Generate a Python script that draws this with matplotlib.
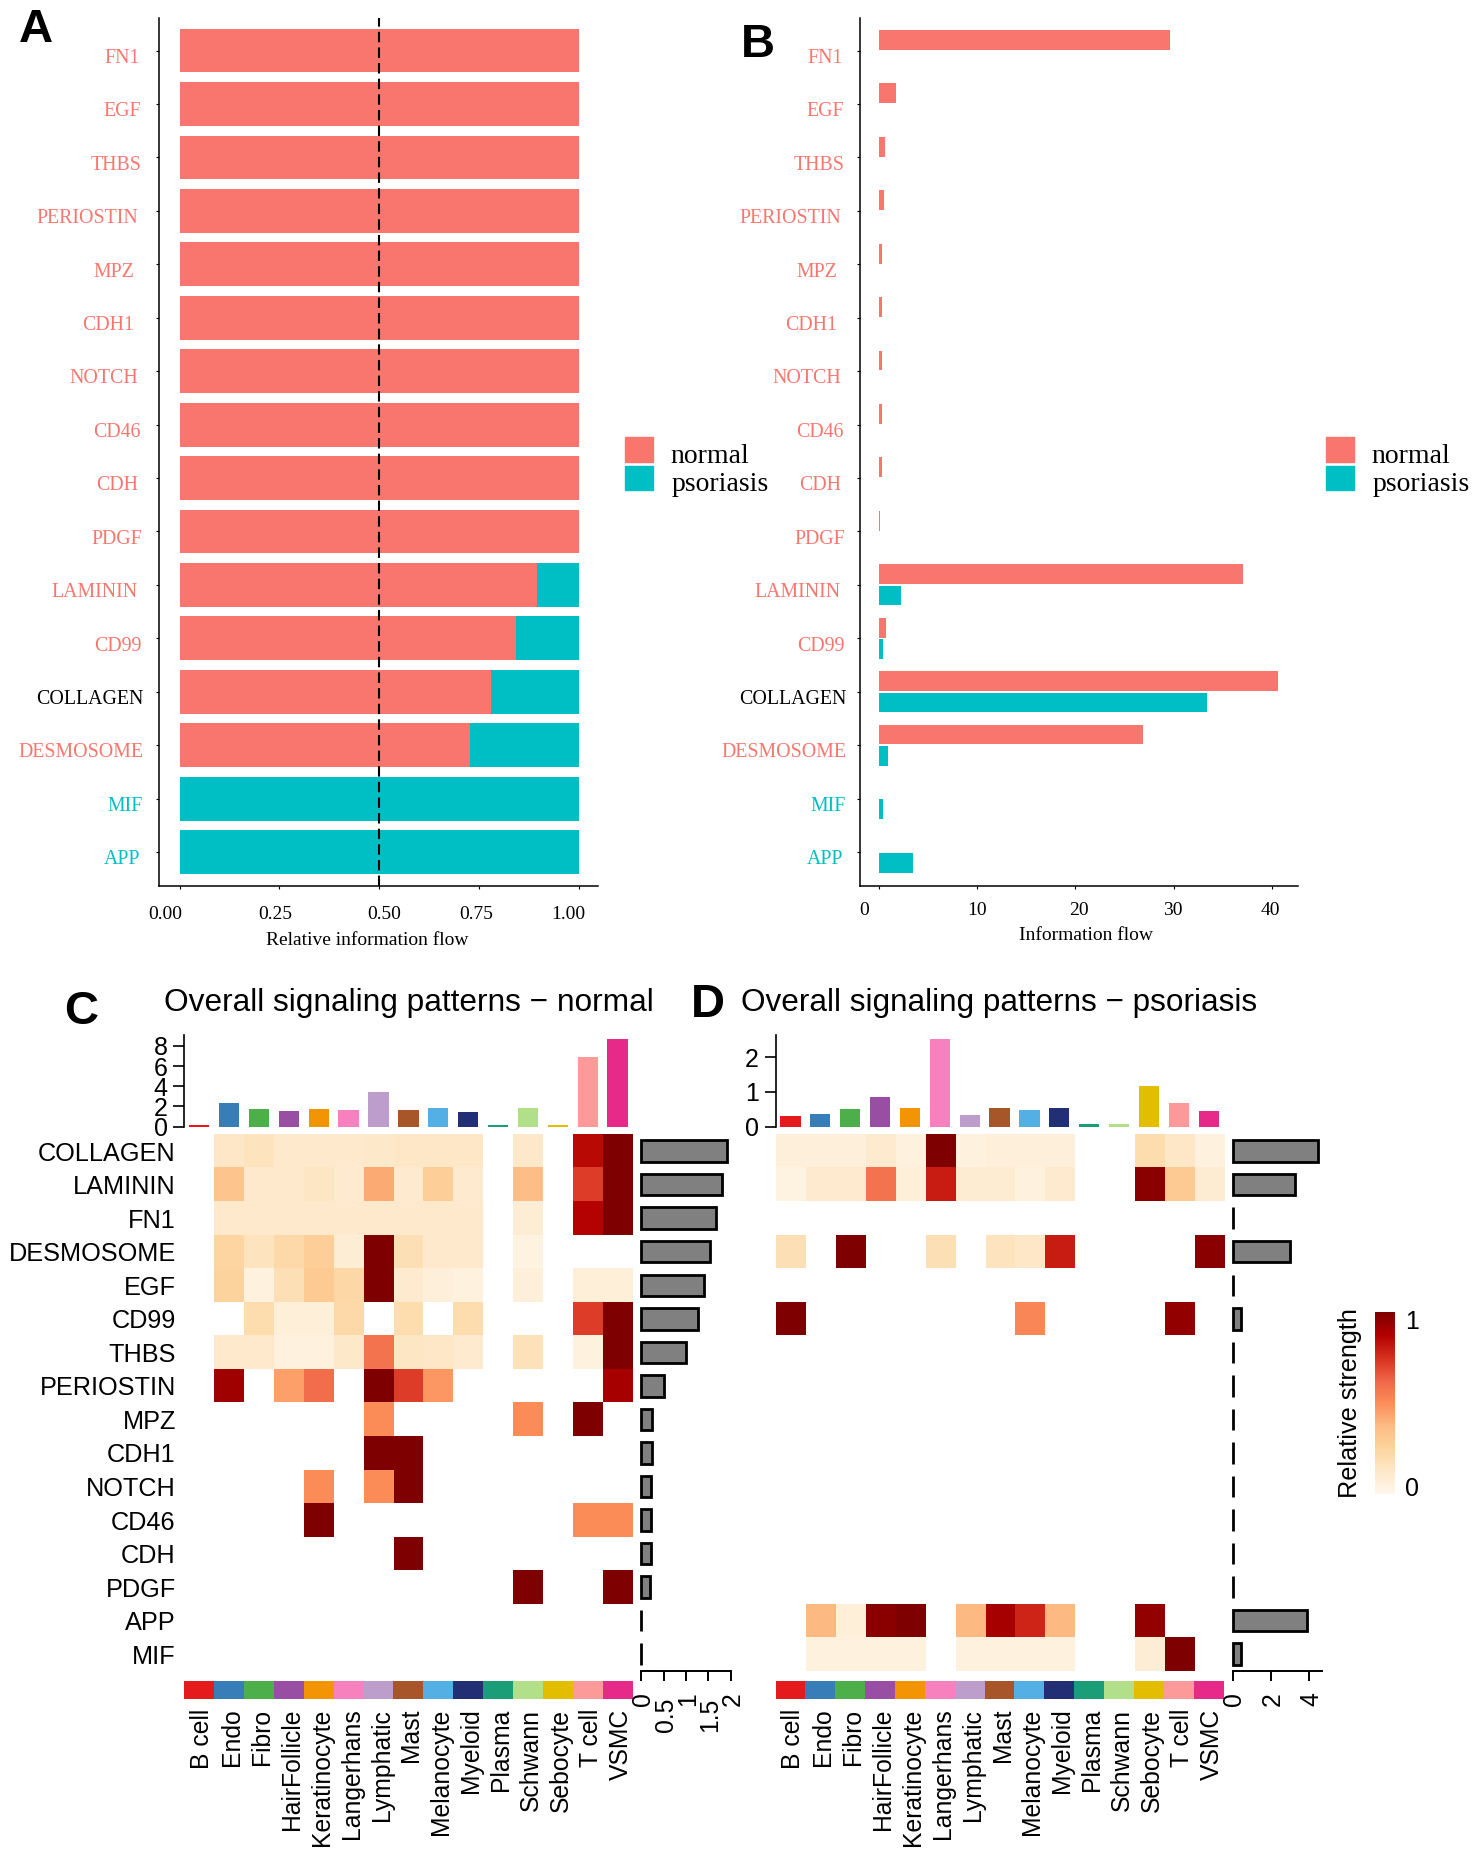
"""
Signaling comparison figure: information flow bars (A, B) and
outgoing signaling pattern heatmaps (C, D), normal vs psoriasis.
"""
import matplotlib
matplotlib.use("Agg")
import matplotlib.pyplot as plt
import numpy as np
from matplotlib.patches import Patch
from matplotlib.transforms import ScaledTranslation

n = np.nan

# panels A and B
pathways = ["FN1", "EGF", "THBS", "PERIOSTIN", "MPZ", "CDH1", "NOTCH", "CD46",
            "CDH", "PDGF", "LAMININ", "CD99", "COLLAGEN", "DESMOSOME", "MIF", "APP"]
flow_normal = [29.6, 1.8, 0.7, 0.5, 0.3, 0.3, 0.3, 0.3, 0.3, 0.15,
               37.0, 0.8, 40.6, 26.9, 0.0, 0.0]
flow_psoriasis = [0, 0, 0, 0, 0, 0, 0, 0, 0, 0,
                  2.3, 0.4, 33.4, 1.0, 0.4, 3.5]
rel_normal = [1, 1, 1, 1, 1, 1, 1, 1, 1, 1,
              0.895, 0.844, 0.78, 0.729, 0, 0]
rel_psoriasis = [0, 0, 0, 0, 0, 0, 0, 0, 0, 0,
                 0.105, 0.156, 0.22, 0.271, 1, 1]
label_colors = ["#F8766D"] * 12 + ["black", "#F8766D", "#00BFC4", "#00BFC4"]

# panels C and D
cell_types = ["B cell", "Endo", "Fibro", "HairFollicle", "Keratinocyte", "Langerhans",
              "Lymphatic", "Mast", "Melanocyte", "Myeloid", "Plasma", "Schwann",
              "Sebocyte", "T cell", "VSMC"]
cell_colors = ["#E41A1C", "#377EB8", "#4DAF4A", "#984EA3", "#F29403", "#F781BF",
               "#BC9DCC", "#A65628", "#54B0E4", "#222F75", "#1B9E77", "#B2DF8A",
               "#E3BE00", "#FB9A99", "#E7298A"]
signals = ["COLLAGEN", "LAMININ", "FN1", "DESMOSOME", "EGF", "CD99", "THBS", "PERIOSTIN",
           "MPZ", "CDH1", "NOTCH", "CD46", "CDH", "PDGF", "APP", "MIF"]

heat_normal = np.array([
    [n, .13, .15, .11, .11, .11, .12, .13, .13, .13, n, .12, n, .85, 1],
    [n, .33, .11, .11, .14, .10, .42, .10, .28, .10, n, .36, n, .72, 1],
    [n, .11, .11, .11, .11, .11, .11, .11, .11, .11, n, .08, n, .87, 1],
    [n, .24, .15, .22, .28, .08, 1, .18, .11, .11, n, .04, n, n, n],
    [n, .25, .05, .18, .30, .23, 1, .10, .06, .05, n, .06, n, .07, .07],
    [n, n, .20, .07, .07, .22, n, .20, n, .20, n, n, n, .72, 1],
    [n, .11, .11, .05, .05, .12, .58, .14, .13, .10, n, .17, n, .05, 1],
    [n, .92, n, .45, .60, n, 1, .72, .47, n, n, n, n, n, .90],
    [n, n, n, n, n, n, .50, n, n, n, n, .50, n, 1, n],
    [n, n, n, n, n, n, 1, 1, n, n, n, n, n, n, n],
    [n, n, n, n, .50, n, .50, 1, n, n, n, n, n, n, n],
    [n, n, n, n, 1, n, n, n, n, n, n, n, n, .50, .50],
    [n, n, n, n, n, n, n, 1, n, n, n, n, n, n, n],
    [n, n, n, n, n, n, n, n, n, n, n, 1, n, n, 1],
    [n, n, n, n, n, n, n, n, n, n, n, n, n, n, n],
    [n, n, n, n, n, n, n, n, n, n, n, n, n, n, n],
])
heat_psoriasis = np.array([
    [.06, .06, .06, .10, .05, 1, .05, .06, .06, .06, n, n, .20, .13, .05],
    [.04, .10, .10, .58, .07, .80, .09, .09, .05, .10, n, n, .97, .30, .09],
    [n, n, n, n, n, n, n, n, n, n, n, n, n, n, n],
    [.18, n, 1, n, n, .18, n, .15, .13, .80, n, n, n, n, .97],
    [n, n, n, n, n, n, n, n, n, n, n, n, n, n, n],
    [1, n, n, n, n, n, n, n, .52, n, n, n, n, .95, n],
    [n, n, n, n, n, n, n, n, n, n, n, n, n, n, n],
    [n, n, n, n, n, n, n, n, n, n, n, n, n, n, n],
    [n, n, n, n, n, n, n, n, n, n, n, n, n, n, n],
    [n, n, n, n, n, n, n, n, n, n, n, n, n, n, n],
    [n, n, n, n, n, n, n, n, n, n, n, n, n, n, n],
    [n, n, n, n, n, n, n, n, n, n, n, n, n, n, n],
    [n, n, n, n, n, n, n, n, n, n, n, n, n, n, n],
    [n, n, n, n, n, n, n, n, n, n, n, n, n, n, n],
    [n, .38, .07, .97, 1, n, .38, .90, .78, .38, n, n, .95, n, n],
    [n, .05, .05, .05, .05, n, .05, .05, .05, .05, n, n, .08, 1, n],
])
top_normal = [0.2, 2.3, 1.8, 1.6, 1.8, 1.7, 3.4, 1.7, 1.9, 1.5, 0.2, 1.9, 0.2, 6.9, 8.7]
top_psoriasis = [0.30, 0.36, 0.50, 0.86, 0.54, 2.52, 0.35, 0.55, 0.48, 0.53,
                 0.07, 0.07, 1.17, 0.68, 0.44]
side_normal = [1.92, 1.80, 1.67, 1.54, 1.41, 1.28, 1.0, 0.5, 0.24, 0.23, 0.22, 0.22,
               0.22, 0.19, 0, 0]
side_psoriasis = [4.47, 3.27, 0, 2.99, 0, 0.44, 0, 0, 0, 0, 0, 0, 0, 0, 3.88, 0.42]

W, H, DPI = 1479, 1855, 100
RED, TEAL = "#F8766D", "#00BFC4"
SERIF = "Liberation Serif"
SANS = "Liberation Sans"

plt.rcParams["font.family"] = SANS
fig = plt.figure(figsize=(W / DPI, H / DPI), dpi=DPI, facecolor="white")


def px_axes(x0, y0, x1, y1):
    return fig.add_axes([x0 / W, 1 - y1 / H, (x1 - x0) / W, (y1 - y0) / H])


def shift(label, dx, dy=0):
    label.set_transform(label.get_transform()
                        + ScaledTranslation(dx / DPI, -dy / DPI, fig.dpi_scale_trans))


def flow_axes(x0, x1, xlim, ticks, tick_labels, tick_dx, pad, right_edges):
    ax = px_axes(x0, 18, x1, 885.7)
    ax.set_xlim(*xlim)
    ax.set_ylim(15.63, -0.61)
    ax.spines[["top", "right"]].set_visible(False)
    ax.spines[["left", "bottom"]].set_linewidth(1.1)
    ax.set_xticks(ticks)
    ax.set_xticklabels(tick_labels, family=SERIF, fontsize=14)
    ax.tick_params(axis="x", length=2.5, width=0.8, pad=pad)
    for lab, dx in zip(ax.get_xticklabels(), tick_dx):
        shift(lab, dx)
    ax.set_yticks(np.arange(len(pathways)))
    ax.set_yticklabels(pathways, family=SERIF, fontsize=14.3)
    ax.tick_params(axis="y", length=2, width=0.8, pad=0)
    for lab, col, right in zip(ax.get_yticklabels(), label_colors, right_edges):
        lab.set_color(col)
        shift(lab, right - (x0 - 2.8), 5.3)
    return ax


# A: relative information flow
y_rows = np.arange(len(pathways))
right_a = [140, 141, 141, 138, 134, 134, 138, 141, 138, 142, 138, 141, 143, 143, 143, 140]
ax_a = flow_axes(158.7, 597.5, (-0.0525, 1.0475), [0, 0.25, 0.5, 0.75, 1],
                 ["0.00", "0.25", "0.50", "0.75", "1.00"],
                 [-14.6, -4.5, 5.4, -2.6, -10.6], 12, right_a)
ax_a.barh(y_rows, rel_normal, height=0.82, color=RED)
ax_a.barh(y_rows, rel_psoriasis, left=rel_normal, height=0.82, color=TEAL)
ax_a.axvline(0.5, color="black", lw=1.5, linestyle=(0, (5, 2.5)), zorder=5)
ax_a.set_xlabel("Relative information flow", family=SERIF, fontsize=14, va="center")
ax_a.xaxis.set_label_coords(0.4747, -0.0636)

# B: absolute information flow
right_b = [r + 703 for r in right_a]
ax_b = flow_axes(859.5, 1297.6, (-1.94, 42.58), [0, 10, 20, 30, 40],
                 ["0", "10", "20", "30", "40"], [-14, 0.5, 4, -1, -1.8], 9, right_b)
ax_b.barh(y_rows - 0.2, flow_normal, height=0.37, color=RED)
ax_b.barh(y_rows + 0.2, flow_psoriasis, height=0.37, color=TEAL)
ax_b.set_xlabel("Information flow", family=SERIF, fontsize=14, va="center")
ax_b.xaxis.set_label_coords((1086 - 859.5) / (1297.6 - 859.5), (885.7 - 935) / 867.7)

for anchor_x in (625, 1326):
    leg = fig.legend(handles=[Patch(color=RED, label="normal"), Patch(color=TEAL, label="psoriasis")],
                     loc="upper left", bbox_to_anchor=(anchor_x / W, 1 - 437 / H),
                     prop={"family": SERIF, "size": 20}, frameon=False, borderpad=0,
                     borderaxespad=0, handlelength=1.0, handleheight=1.0, labelspacing=0.02,
                     handletextpad=0.65)
    for txt, dx in zip(leg.get_texts(), (0, 1)):
        txt.set_position((dx, -4))


def pattern_panel(x0, x1, side_x0, side_x1, side_lim, heat, top, side, top_scale, top_ticks,
                  side_ticks, side_labels, row_labels):
    ncol = len(cell_types)
    xlim = (-0.5, ncol - 0.5)

    ax_top = px_axes(x0, 1035, x1, 1126.7)
    ax_top.bar(np.arange(ncol), top, width=0.68, color=cell_colors)
    ax_top.set_xlim(*xlim)
    ax_top.set_ylim(0, 91.7 / top_scale)
    ax_top.spines[["top", "right", "bottom"]].set_visible(False)
    ax_top.spines["left"].set_linewidth(1.2)
    ax_top.set_xticks([])
    ax_top.set_yticks(top_ticks)
    ax_top.tick_params(axis="y", length=8, width=1.2, pad=4, labelsize=18)

    ax_heat = px_axes(x0, 1134.3, x1, 1671)
    ax_heat.imshow(np.ma.masked_invalid(heat), cmap="OrRd", vmin=0, vmax=1, aspect="auto",
                   interpolation="nearest")
    ax_heat.spines[:].set_visible(False)
    ax_heat.set_xticks([])
    if row_labels:
        ax_heat.set_yticks(np.arange(len(signals)))
        ax_heat.set_yticklabels(signals, fontsize=18.2)
        ax_heat.tick_params(axis="y", length=0, pad=6)
    else:
        ax_heat.set_yticks([])

    ax_strip = px_axes(x0, 1680.7, x1, 1699)
    ax_strip.bar(np.arange(ncol), np.ones(ncol), width=1, color=cell_colors)
    ax_strip.set_xlim(*xlim)
    ax_strip.set_ylim(0, 1)
    ax_strip.spines[:].set_visible(False)
    ax_strip.set_yticks([])
    ax_strip.set_xticks(np.arange(ncol))
    ax_strip.set_xticklabels(cell_types, rotation=90, va="top", ha="center", fontsize=17.8)
    ax_strip.tick_params(axis="x", length=0, pad=7)
    for lab in ax_strip.get_xticklabels():
        shift(lab, 3)

    ax_side = px_axes(side_x0, 1134.3, side_x1, 1671)
    ax_side.barh(np.arange(len(signals)), side, height=0.64, color="#808080",
                 edgecolor="black", linewidth=2.0, clip_on=False)
    ax_side.set_xlim(0, side_lim)
    ax_side.set_ylim(len(signals) - 0.5, -0.5)
    ax_side.spines[["top", "right", "left"]].set_visible(False)
    ax_side.spines["bottom"].set_linewidth(1.4)
    ax_side.set_yticks([])
    ax_side.set_xticks(side_ticks)
    ax_side.set_xticklabels(side_labels, rotation=90, va="top", ha="center", fontsize=17.8)
    ax_side.tick_params(axis="x", length=7, width=1.4, pad=8)
    for lab in ax_side.get_xticklabels():
        shift(lab, 2, 6 if len(lab.get_text()) > 1 else 0)
    return ax_heat


im = pattern_panel(184.2, 632.6, 641.3, 730.5, 2.0, heat_normal, top_normal, side_normal,
                   10.1, [0, 2, 4, 6, 8], [0, 0.5, 1, 1.5, 2],
                   ["0", "0.5", "1", "1.5", "2"], True).images[0]
pattern_panel(775.5, 1223.6, 1232.5, 1322.3, 4.7, heat_psoriasis, top_psoriasis, side_psoriasis,
              34.8, [0, 1, 2], [0, 2, 4], ["0", "2", "4"], False)

# shared colour bar
cax = px_axes(1374.6, 1312.3, 1395, 1494)
cbar = fig.colorbar(im, cax=cax, ticks=[0.04, 0.96])
cbar.ax.set_yticklabels(["0", "1"], fontsize=18)
cbar.ax.tick_params(length=0, pad=7)
cbar.outline.set_visible(False)
cbar.ax.yaxis.set_label_position("left")
cbar.set_label("Relative strength", fontsize=18.2, labelpad=9)

# titles and panel letters
fig.text(164 / W, 1 - 1003 / H, "Overall signaling patterns \u2212 normal", fontsize=22.8, va="center")
fig.text(741 / W, 1 - 1003 / H, "Overall signaling patterns \u2212 psoriasis", fontsize=22.7, va="center")
for letter, x, y in [("A", 36, 30), ("B", 758, 45), ("C", 81, 1012), ("D", 708, 1005)]:
    fig.text(x / W, 1 - y / H, letter, fontsize=34, fontweight="bold", ha="center", va="center")

fig.savefig("out.png", dpi=DPI)
